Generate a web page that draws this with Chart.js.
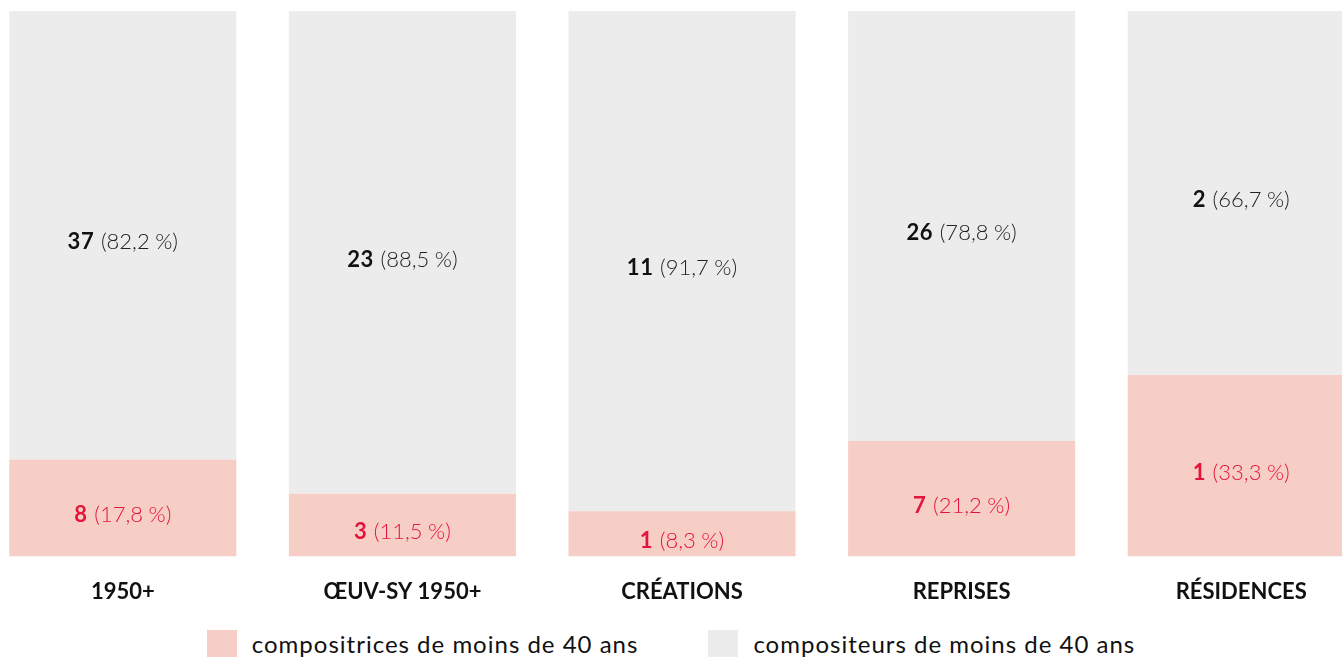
<!DOCTYPE html>
<html lang="fr">
<head>
    <meta charset="UTF-8">
    <title>Compositrices / compositeurs de moins de 40 ans</title>
    <script src="https://cdn.jsdelivr.net/npm/chart.js"></script>
    <style>
        html, body { margin: 0; padding: 0; background: #fff; overflow: hidden; }
        body { width: 1342px; height: 657px; position: relative; font-family: Lato, "Noto Sans", sans-serif; }
        .zone { position: absolute; left: -17px; top: 0; width: 1398px; height: 629px; }
        .legende { position: absolute; left: 0; top: 629px; width: 1342px; display: flex; justify-content: center; gap: 70px; font-size: 24px; letter-spacing: 1px; color: #111; }
        .legende div { display: flex; align-items: center; }
        .legende span.carre { display: inline-block; width: 30px; height: 28px; margin-right: 15px; }
    </style>
</head>
<body>
    <div class="zone">
        <canvas id="graficoBarra"></canvas>
    </div>
    <div class="legende">
        <div><span class="carre" style="background:#f6cec5"></span>compositrices de moins de 40 ans</div>
        <div><span class="carre" style="background:#ececec"></span>compositeurs de moins de 40 ans</div>
    </div>

<script>
    const categories = ['1950+', 'ŒUV-SY 1950+', 'CRÉATIONS', 'REPRISES', 'RÉSIDENCES'];
    const nbCompositrices = [8, 3, 1, 7, 1];
    const nbCompositeurs = [37, 23, 11, 26, 2];
    const pctCompositrices = [17.8, 11.5, 8.3, 21.2, 33.3];
    const pctCompositeurs = [82.2, 88.5, 91.7, 78.8, 66.7];

    const rose = '#f6cec5';
    const gris = '#ececec';
    const rouge = '#e4143c';

    function formatPct(v) {
        return '(' + v.toFixed(1).replace('.', ',') + '\u202f%)';
    }

    // etiquettes au milieu de chaque segment
    const etiquettes = {
        id: 'etiquettes',
        afterDatasetsDraw(chart) {
            const ctx = chart.ctx;
            const nombres = [nbCompositrices, nbCompositeurs];
            const pcts = [pctCompositrices, pctCompositeurs];
            const couleurs = [rouge, '#111'];
            chart.data.datasets.forEach(function (ds, d) {
                chart.getDatasetMeta(d).data.forEach(function (bar, i) {
                    const y = (bar.y + bar.base) / 2 + 7;
                    const n = String(nombres[d][i]);
                    const p = ' ' + formatPct(pcts[d][i]);
                    ctx.save();
                    ctx.textBaseline = 'middle';
                    ctx.letterSpacing = '0.6px';
                    ctx.font = 'bold 22px Lato, sans-serif';
                    const w1 = ctx.measureText(n).width;
                    ctx.font = '300 22px Lato, sans-serif';
                    const w2 = ctx.measureText(p).width;
                    let x = bar.x - (w1 + w2) / 2;
                    ctx.fillStyle = couleurs[d];
                    ctx.font = 'bold 22px Lato, sans-serif';
                    ctx.fillText(n, x, y);
                    ctx.font = '300 22px Lato, sans-serif';
                    ctx.fillStyle = d === 0 ? rouge : '#222';
                    ctx.fillText(p, x + w1, y);
                    ctx.restore();
                });
            });
        }
    };

    const ctx = document.getElementById('graficoBarra');
    new Chart(ctx, {
        type: 'bar',
        data: {
            labels: categories,
            datasets: [{
                label: 'compositrices de moins de 40 ans',
                data: pctCompositrices,
                backgroundColor: rose,
                borderWidth: 0
            }, {
                label: 'compositeurs de moins de 40 ans',
                data: pctCompositeurs,
                backgroundColor: gris,
                borderWidth: 0
            }]
        },
        plugins: [etiquettes],
        options: {
            responsive: true,
            maintainAspectRatio: false,
            animation: false,
            categoryPercentage: 1,
            barPercentage: 0.812,
            layout: { padding: { top: 11, bottom: 10, left: 0, right: 0 } },
            plugins: {
                legend: { display: false },
                tooltip: { enabled: false }
            },
            scales: {
                x: {
                    stacked: true,
                    grid: { display: false },
                    border: { display: false },
                    ticks: {
                        color: '#111',
                        padding: 14,
                        font: { family: 'Lato, sans-serif', size: 22, weight: 'bold' }
                    }
                },
                y: {
                    stacked: true,
                    display: false,
                    min: 0,
                    max: 100
                }
            }
        }
    });
</script>
</body>
</html>
